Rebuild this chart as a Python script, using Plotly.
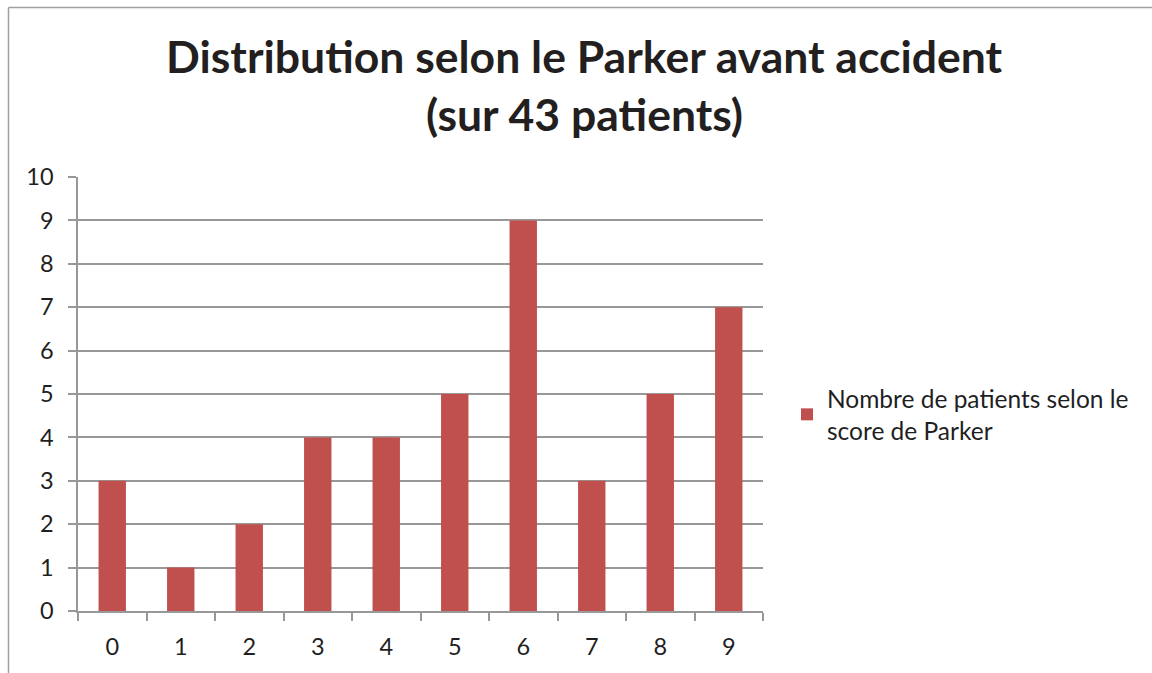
import plotly.graph_objects as go

# Parker score categories and patient counts
scores = ["0", "1", "2", "3", "4", "5", "6", "7", "8", "9"]
patients = [3, 1, 2, 4, 4, 5, 9, 3, 5, 7]
series_name = "Nombre de patients selon le<br>score de Parker"
title_lines = ["Distribution selon le Parker avant accident", "(sur 43 patients)"]

W, H = 1152, 673
L, R, T, B = 78, 389, 177, 62
pw, ph = W - L - R, H - T - B


def px_x(x):
    return (x - L) / pw


def px_y(y):
    return (H - B - y) / ph


FONT = "Lato, Carlito, Calibri, sans-serif"
GRID = "#989898"
TEXT = "#1f1f1f"

fig = go.Figure()
fig.add_trace(go.Bar(
    x=scores, y=patients, name=series_name,
    marker=dict(color="#C0504D", line=dict(width=0)),
    showlegend=True,
))

fig.update_layout(
    width=W, height=H,
    margin=dict(l=L, r=R, t=T, b=B, pad=0),
    paper_bgcolor="white", plot_bgcolor="white",
    font=dict(family=FONT, size=23.5, color=TEXT),
    bargap=0.6,
    showlegend=True,
    legend=dict(
        x=px_x(787), y=px_y(376), xanchor="left", yanchor="top",
        font=dict(size=24.5, color=TEXT),
        bgcolor="rgba(0,0,0,0)", borderwidth=0,
    ),
    xaxis=dict(
        type="category", tickson="boundaries",
        ticks="outside", ticklen=8, tickcolor=GRID, tickwidth=1.5,
        showline=True, linecolor=GRID, linewidth=1.5,
        showgrid=False, ticklabelstandoff=14,
        tickfont=dict(size=23.5),
    ),
    yaxis=dict(
        range=[0, 10], dtick=1, tick0=0,
        ticks="outside", ticklen=8, tickcolor=GRID, tickwidth=1.5,
        showline=True, linecolor=GRID, linewidth=1.5,
        showgrid=True, gridcolor=GRID, gridwidth=1.5,
        zeroline=False, ticklabelstandoff=10,
        tickfont=dict(size=23.5),
    ),
)

# chart frame (left and top edges)
frame = dict(color="#A0A0A0", width=1.5)
fig.add_shape(type="line", xref="paper", yref="paper",
              x0=px_x(8.5), x1=px_x(8.5), y0=px_y(7.5), y1=px_y(H + 5), line=frame)
fig.add_shape(type="line", xref="paper", yref="paper",
              x0=px_x(8.5), x1=px_x(W + 5), y0=px_y(7.5), y1=px_y(7.5), line=frame)

# two-line bold title
for text, yc in zip(title_lines, [55, 114]):
    fig.add_annotation(
        text=f"<b>{text}</b>", showarrow=False,
        xref="paper", yref="paper", x=px_x(584), y=px_y(yc),
        xanchor="center", yanchor="middle",
        font=dict(family=FONT, size=44.5, color="#231f20"),
    )

fig.write_html("out.html")
